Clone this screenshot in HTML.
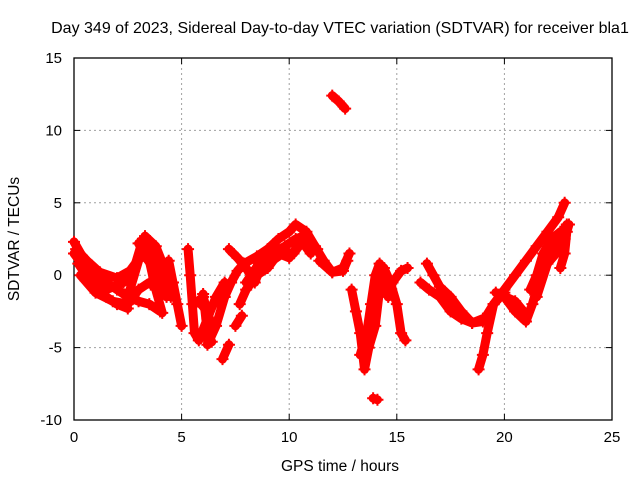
<!DOCTYPE html>
<html><head><meta charset="utf-8"><style>
body{margin:0;background:#fff}
svg{display:block;font-family:"Liberation Sans",sans-serif}
</style></head><body>
<svg id="chart" width="640" height="480" viewBox="0 0 640 480">
<text x="340" y="33" font-size="16" text-anchor="middle">Day 349 of 2023, Sidereal Day-to-day VTEC variation (SDTVAR) for receiver bla1</text>
<g id="grid"></g>
<g id="axes"></g>
<g id="data"></g>
<text x="340" y="471" font-size="15.5" text-anchor="middle">GPS time / hours</text>
<text transform="translate(19,239) rotate(-90)" font-size="15.5" text-anchor="middle">SDTVAR / TECUs</text>
</svg>
<script>
const xTicks=[0,5,10,15,20,25];
const yTicks=[-10,-5,0,5,10,15];
const tracks=[
[[0,2.3],[0.5,1],[1,0],[1.5,-0.5],[2,-1],[2.5,-1.5],[3,-1.8],[3.5,-2],[4,-2.5]],
[[0,1.5],[0.5,0.5],[1,-0.8],[1.5,-1.5],[2,-2],[2.5,-2.3]],
[[0.2,0.8],[0.8,-0.5],[1.5,-1],[2.3,-0.5],[2.8,0.5],[3.2,2.5],[3.6,1.5],[4,-0.5],[4.3,-1.5]],
[[2.6,-1],[3,1],[3.3,2.7],[3.8,2],[4.2,0.5],[4.5,-1.5]],
[[0.3,0],[1,-1.2],[1.8,-1.8],[2.5,-2],[3,-1],[3.5,-0.5],[4,-1.2]],
[[0.1,1.8],[0.6,1],[1.2,0.2],[2,-0.2],[2.6,0.3],[3.2,1.5],[3.7,0.5]],
[[3,2.2],[3.5,1],[3.8,-1],[4.1,-2.6]],
[[4.4,1],[4.6,-0.5],[4.8,-2],[5,-3.5]],
[[5.3,1.8],[5.4,0],[5.5,-2],[5.6,-4],[5.8,-4.5],[6.2,-3],[6.6,-1.5],[7,-0.5]],
[[5.6,-2],[6,-1.5],[6.3,-3],[6.2,-4.8],[6.6,-3.5],[7,-1.5],[7.3,-0.5],[7.6,0.3],[7.9,0.8],[8.5,1.3],[9,1.8],[9.5,2.5],[10,3],[10.3,3.5],[10.8,3],[11.2,2],[11.6,1],[12,0.2],[12.5,0.3],[12.7,1]],
[[5.9,-2],[6.2,-2.5],[6.6,-1.8],[7,-1.5]],
[[6,-1.3],[6.2,-4],[6.4,-4.6]],
[[6.9,-5.8],[7.2,-4.8]],
[[7.5,-3.5],[7.8,-2.8]],
[[7.2,1.8],[7.6,1.2],[8,0.5],[8.4,-0.5],[8.8,1],[9.2,1.5],[9.8,2],[10.3,2.5],[10.8,2.8],[11.3,1.8]],
[[7.7,-2],[8,-1],[8.5,0],[9,0.5],[9.5,1.5],[10,1.2],[10.4,2]],
[[8,-0.5],[8.6,0.8],[9.2,1],[9.8,1.6],[10.2,1.5],[10.6,2.3],[11,1.5]],
[[11.4,1],[12,0.2],[12.5,0.5],[12.8,1.5]],
[[12.9,-1],[13.1,-2.5],[13.3,-4],[13.5,-6.5],[13.7,-5],[14,-3.5],[14.2,-1],[14.4,0.5],[14.7,-0.5],[15,-2],[15.2,-4],[15.4,-4.5]],
[[13.3,-5.5],[13.6,-4],[13.8,-2],[14,0],[14.2,0.8],[14.4,-0.5],[14.6,-1.5],[14.8,-0.5],[15.2,0.3],[15.5,0.5]],
[[13.9,-8.5],[14.1,-8.6]],
[[16.4,0.8],[16.7,0],[17,-0.8],[17.5,-1.5],[18,-2.5],[18.5,-3.3],[19,-3.2],[19.5,-2],[19.8,-1.5],[20,-1.2]],
[[16.1,-0.5],[16.5,-1],[17,-1.5],[17.5,-2.5],[18,-3],[18.5,-3.3],[19,-3]],
[[18.8,-6.5],[19,-5.5],[19.2,-4],[19.5,-2],[20,-1],[20.5,0],[21,1],[21.5,2],[22,3],[22.5,4],[22.8,5]],
[[20,-1.5],[20.5,-2.5],[21,-3.2],[21.3,-2],[21.6,-0.5],[22,1.5],[22.5,2.5],[22.9,3.5]],
[[21.2,-1],[21.5,0],[21.8,1.5],[22.2,2.5],[22.6,3],[22.9,3],[22.8,1.5],[22.6,0.5]],
[[21.5,-1.5],[22,0.8],[22.4,1.5],[22.8,2.5],[23,3.5]],
[[19.6,-1.2],[20.5,-1.8],[21,-2.7]],
[[12,12.4],[12.3,12],[12.6,11.5]]
];
const L=74,R=612,T=58,B=420;
function sx(h){return L+(h-0)/(25-0)*(R-L);}
function sy(v){return B-(v+10)/(25)*(B-T);}
const NS='http://www.w3.org/2000/svg';
function mk(tag,attrs,parent){const e=document.createElementNS(NS,tag);for(const k in attrs)e.setAttribute(k,attrs[k]);parent.appendChild(e);return e;}
const grid=document.getElementById('grid'),axes=document.getElementById('axes'),dg=document.getElementById('data');
xTicks.forEach(t=>{
  if(t>0&&t<25){const g=mk('line',{x1:sx(t),x2:sx(t),y1:T,y2:B,stroke:'#a0a0a0','stroke-dasharray':'2,3'},grid);
  
  }
  mk('line',{x1:sx(t),x2:sx(t),y1:B,y2:B-6,stroke:'#000'},axes);
  mk('line',{x1:sx(t),x2:sx(t),y1:T,y2:T+6,stroke:'#000'},axes);
  const lb=mk('text',{x:sx(t),y:B+22,'font-size':15,'text-anchor':'middle'},axes);
  lb.textContent=t;
  
  
});
yTicks.forEach(t=>{
  if(t>-10&&t<15){const g=mk('line',{x1:L,x2:R,y1:sy(t),y2:sy(t),stroke:'#a0a0a0','stroke-dasharray':'2,3'},grid);
  
  }
  mk('line',{x1:L,x2:L+6,y1:sy(t),y2:sy(t),stroke:'#000'},axes);
  mk('line',{x1:R,x2:R-6,y1:sy(t),y2:sy(t),stroke:'#000'},axes);
  const lb=mk('text',{x:L-12,y:sy(t)+5,'font-size':15,'text-anchor':'end'},axes);
  lb.textContent=t;
  
  
});
mk('rect',{x:L,y:T,width:R-L,height:B-T,fill:'none',stroke:'#000','stroke-width':1.3},axes);
tracks.forEach(tr=>{
  const pts=tr.map(p=>sx(p[0])+','+sy(p[1])).join(' ');
  const pl=mk('polyline',{points:pts,fill:'none',stroke:'#f00','stroke-width':9,'stroke-linejoin':'round','stroke-linecap':'round'},dg);
  
  
  tr.forEach(p=>{
    const x=sx(p[0]),y=sy(p[1]);
    const m=mk('path',{d:`M${x-6},${y}H${x+6}M${x},${y-6}V${y+6}`,stroke:'#f00','stroke-width':2},dg);
    
    
  });
});
</script>
</body></html>
